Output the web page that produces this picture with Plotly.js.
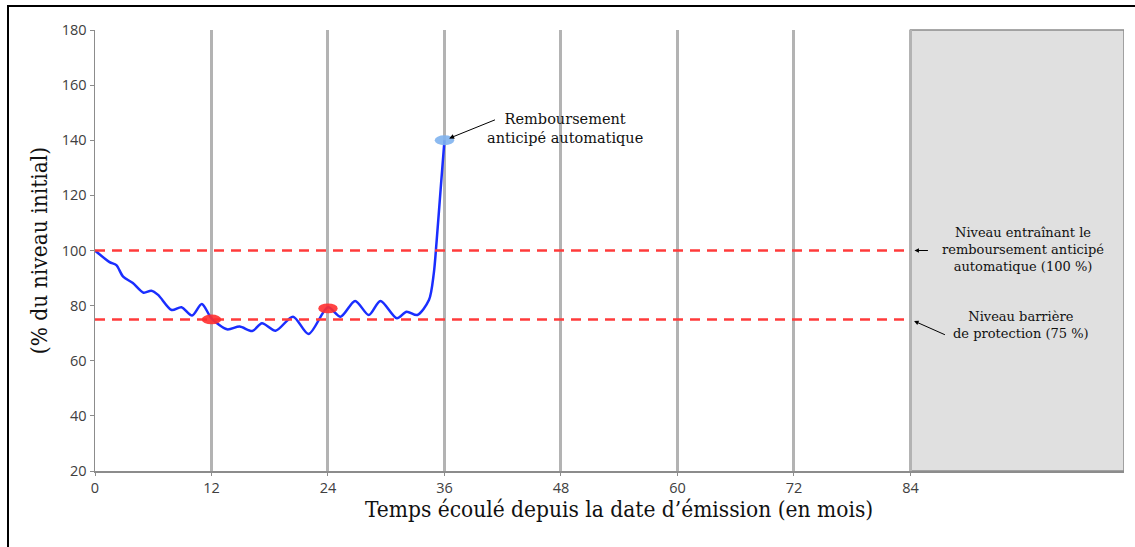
<!DOCTYPE html>
<html>
<head>
<meta charset="utf-8">
<script src="https://cdn.plot.ly/plotly-3.0.1.min.js"></script>
<style>
  html, body { margin: 0; padding: 0; background: #fff; }
  #wrap { position: relative; width: 1135px; height: 547px; }
  #chart { width: 1135px; height: 547px; }
  #frame { position: absolute; left: 7px; top: 5px; width: 1128px; height: 542px;
           border-left: 2.5px solid #000; border-top: 2.5px solid #000; pointer-events: none; box-sizing: border-box; }
</style>
</head>
<body>
<div id="wrap">
  <div id="chart"></div>
  <div id="frame"></div>
</div>
<script>
// Months elapsed and underlying level (% of initial level)
const months = [0, 1.5, 2.2, 2.9, 3.9, 5, 5.8, 6.5, 7.9, 8.9, 10, 11, 12, 13.6, 14.9, 16.2, 17.2, 18.6, 20.4, 22, 24, 25.3, 26.8, 28.2, 29.4, 31.1, 32.1, 33.2, 34.4, 34.9, 35.2, 35.6, 36];
const level  = [100, 95.8, 94.7, 90.5, 88.2, 84.7, 85.4, 83.9, 78.4, 79.4, 76.4, 80.6, 75.4, 71.4, 72.4, 70.8, 73.6, 70.9, 76, 69.7, 79.4, 76, 81.7, 76.6, 81.7, 75.4, 77.8, 76.6, 82, 91.7, 103.8, 122, 140];

// Observation points
const obsX = [12, 24];
const obsY = [75, 79];
const redemptionX = [36];
const redemptionY = [140];

// Reference levels
const autocallLevel = 100;
const barrierLevel = 75;

// Axis ticks
const xTicks = [0, 12, 24, 36, 48, 60, 72, 84];
const yTicks = [20, 40, 60, 80, 100, 120, 140, 160, 180];
const lastObs = 84;

const serif = '"DejaVu Serif", "Liberation Serif", serif';
const serifCond = '"DejaVu Serif Condensed", "DejaVu Serif", serif';

const shapes = [];
shapes.push({type: 'rect', xref: 'x', yref: 'paper', x0: lastObs, x1: 106, y0: 0, y1: 1,
  fillcolor: '#e0e0e0', line: {color: '#8c8c8c', width: 1.5}, layer: 'below'});
[autocallLevel, barrierLevel].forEach(function (lv) {
  shapes.push({type: 'line', xref: 'x', yref: 'y', x0: 0, x1: lastObs, y0: lv, y1: lv,
    line: {color: '#ff3b3b', width: 2.5, dash: '10px,7px'}, layer: 'above'});
});
function ellipse(x, y, color) {
  return {type: 'circle', xref: 'x', yref: 'y', x0: x - 1.0, x1: x + 1.0, y0: y - 1.8, y1: y + 1.8,
    fillcolor: color, line: {width: 0}, opacity: 0.9, layer: 'above'};
}
obsX.forEach(function (x, i) { shapes.push(ellipse(x, obsY[i], '#ff3030')); });
redemptionX.forEach(function (x, i) { shapes.push(ellipse(x, redemptionY[i], '#7fb2ee')); });

const traces = [{
  x: months, y: level, type: 'scatter', mode: 'lines',
  line: {color: '#1a2eff', width: 2.5, shape: 'spline', smoothing: 0.8},
  hoverinfo: 'skip'
}];

// Plot-area pixel helpers for placing text blocks
const pl = 95, pw = 1135 - 95 - 11, pt = 30, ph = 547 - 30 - 76;
function px(xp) { return (xp - pl) / pw; }
function py(yp) { return 1 - (yp - pt) / ph; }

const annotations = [
  {x: 36, y: 140, xref: 'x', yref: 'y', text: '', showarrow: true, ax: 52, ay: -21,
   arrowhead: 2, arrowsize: 1, arrowwidth: 1, arrowcolor: '#000', standoff: 5},
  {x: px(565), y: py(128), xref: 'paper', yref: 'paper', xanchor: 'center', yanchor: 'middle',
   text: 'Remboursement<br>anticipé automatique', showarrow: false,
   font: {family: serif, size: 14.5, color: '#111'}, align: 'center'},
  {x: lastObs, y: autocallLevel, xref: 'x', yref: 'y', text: '', showarrow: true, ax: 19, ay: 0,
   arrowhead: 2, arrowsize: 0.9, arrowwidth: 1, arrowcolor: '#000', standoff: 4},
  {x: lastObs, y: barrierLevel, xref: 'x', yref: 'y', text: '', showarrow: true, ax: 36, ay: 16,
   arrowhead: 2, arrowsize: 0.9, arrowwidth: 1, arrowcolor: '#000', standoff: 4},
  {x: px(1023), y: py(249), xref: 'paper', yref: 'paper', xanchor: 'center', yanchor: 'middle', showarrow: false,
   text: 'Niveau entraînant le<br>remboursement anticipé<br>automatique (100 %)', align: 'center',
   font: {family: serif, size: 13, color: '#111'}},
  {x: px(1021), y: py(325), xref: 'paper', yref: 'paper', xanchor: 'center', yanchor: 'middle', showarrow: false,
   text: 'Niveau barrière<br>de protection (75 %)', align: 'center',
   font: {family: serif, size: 13, color: '#111'}},
  {x: px(619), y: py(509), xref: 'paper', yref: 'paper', xanchor: 'center', yanchor: 'middle', showarrow: false,
   text: 'Temps écoulé depuis la date d’émission (en mois)',
   font: {family: serifCond, size: 22.5, color: '#111'}}
];

const layout = {
  width: 1135, height: 547,
  margin: {l: 95, r: 11, t: 30, b: 76},
  paper_bgcolor: '#fff', plot_bgcolor: '#fff',
  showlegend: false,
  xaxis: {
    range: [0, 106], tickvals: xTicks, ticktext: xTicks.map(String),
    showgrid: true, gridcolor: '#b3b3b3', gridwidth: 3,
    zeroline: false, showline: true, linecolor: '#8c8c8c', linewidth: 1.5,
    ticks: 'outside', ticklen: 3, tickcolor: '#8c8c8c',
    tickfont: {family: '"Open Sans", "Liberation Sans", sans-serif', size: 14.5, color: '#404040'}
  },
  yaxis: {
    range: [20, 180], tickvals: yTicks,
    showgrid: false, zeroline: false, showline: true, linecolor: '#8c8c8c', linewidth: 1.5,
    ticks: 'outside', ticklen: 4, tickcolor: '#8c8c8c',
    tickfont: {family: '"Open Sans", "Liberation Sans", sans-serif', size: 14.5, color: '#404040'},
    title: {text: '(% du niveau initial)', standoff: 8,
            font: {family: serifCond, size: 22.5, color: '#111'}}
  },
  shapes: shapes,
  annotations: annotations
};

Plotly.newPlot('chart', traces, layout, {staticPlot: true, displayModeBar: false});
</script>
</body>
</html>
